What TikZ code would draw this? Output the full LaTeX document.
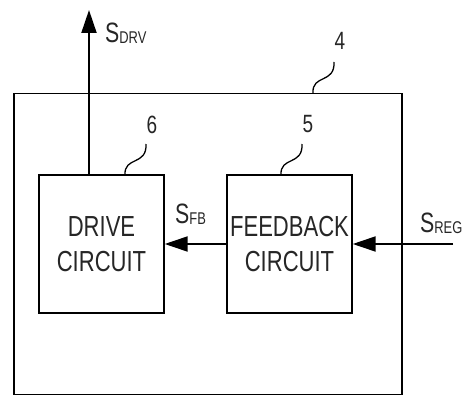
\documentclass[tikz,border=0pt]{standalone}
\usepackage{fontspec}
\newfontfamily\cond[FakeStretch=0.76]{Liberation Sans}
\usetikzlibrary{arrows.meta}
\tikzset{
  blk/.style={draw, line width=1.4pt, minimum width=125pt, minimum height=138pt, inner sep=0pt,
    align=center, text=black!85, font=\cond\fontsize{29}{35}\selectfont},
  outerbox/.style={draw, line width=1.4pt, minimum width=388pt, minimum height=301pt, inner sep=0pt},
  arr/.style={line width=2pt, -{Triangle[length=23pt,width=15pt]}},
  lead/.style={line width=1.3pt},
  lbl/.style={inner sep=0pt, anchor=base west, text=black!85, font=\cond},
  num/.style={inner sep=0pt, anchor=base, text=black!85, font=\cond\fontsize{25}{25}\selectfont},
}
\newcommand{\sig}[1]{{\fontsize{28}{28}\selectfont S}{\fontsize{17}{17}\selectfont\raisebox{-1pt}{#1}}}
\begin{document}
\begin{tikzpicture}[x=1pt,y=-1pt]
\useasboundingbox (0,0) rectangle (469,396);
\node[outerbox] (outer) at (208,244) {};
\node[blk] (drive) at (101.5,244) {DRIVE\\CIRCUIT};
\node[blk] (fb) at (289.5,244) {FEEDBACK\\CIRCUIT};
\coordinate (drvtip) at (89,10);
\coordinate (regin) at (453,244);
\draw[arr] (drive.north -| drvtip) -- (drvtip);
\draw[arr] (fb.west) -- (drive.east);
\draw[arr] (regin) -- (fb.east);
\node[lbl] (sdrv) at (105,43) {\sig{DRV}};
\node[lbl] (sfb) at (175,223) {\sig{FB}};
\node[lbl] (sreg) at (420,232) {\sig{REG}};
\node[num] (n6) at (152,133) {6};
\node[num] (n5) at (308,132) {5};
\node[num] (n4) at (340,50) {4};
\coordinate (l6a) at (146,144);
\coordinate (l6b) at (125,175);
\coordinate (l5a) at (302,144);
\coordinate (l5b) at (281,175);
\coordinate (l4a) at (334,62);
\coordinate (l4b) at (313,93);
\draw[lead] (l6a) .. controls (147,166) and (124,156) .. (l6b);
\draw[lead] (l5a) .. controls (303,166) and (280,156) .. (l5b);
\draw[lead] (l4a) .. controls (335,84) and (312,74) .. (l4b);
\end{tikzpicture}
\end{document}
